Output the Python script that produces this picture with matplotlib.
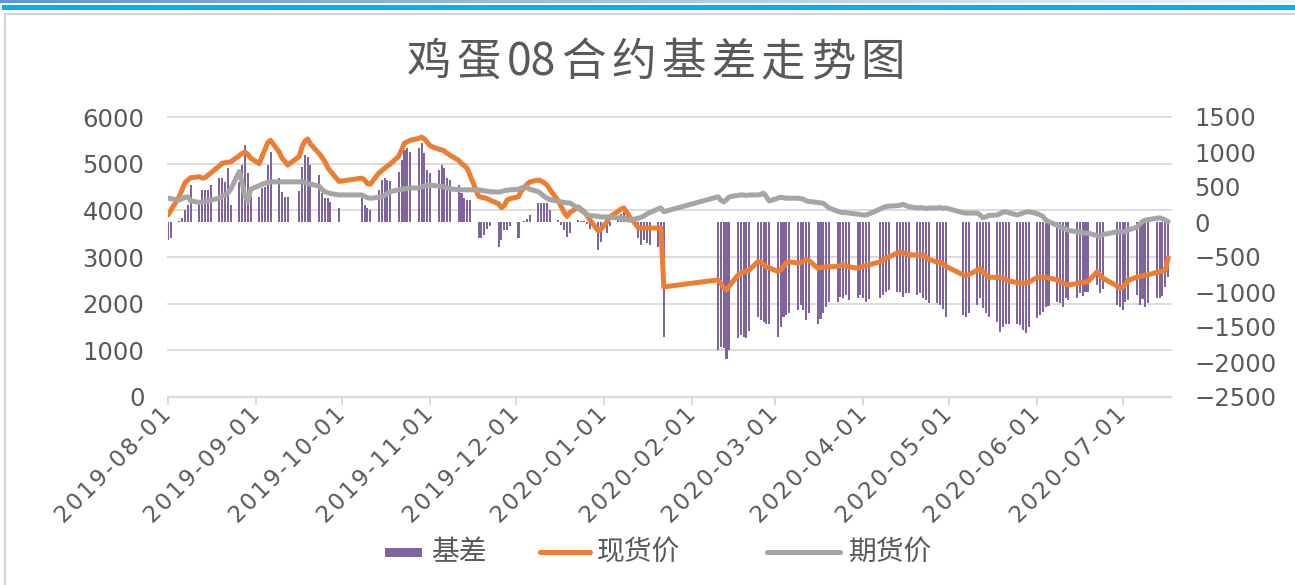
import matplotlib
matplotlib.use('Agg')
import matplotlib.pyplot as plt
import matplotlib.dates as mdates
import matplotlib.transforms as mtransforms
import matplotlib.ticker as mticker
import numpy as np
import pandas as pd
from matplotlib.patches import Rectangle
from matplotlib.lines import Line2D

plt.rcParams['font.family'] = ['Noto Sans CJK SC', 'DejaVu Sans']

# ---------------- data ----------------
start_date, end_date = '2019-08-01', '2020-07-17'
closed_days = (['2019-09-13'] + ['2019-10-0%d' % d for d in range(1, 8)] + ['2020-01-01']
               + list(pd.date_range('2020-01-23', '2020-02-07').strftime('%Y-%m-%d'))
               + ['2020-04-06', '2020-05-01', '2020-05-04', '2020-05-05', '2020-06-25', '2020-06-26'])
dates = pd.bdate_range(start_date, end_date)
dates = dates[~dates.isin(pd.to_datetime(closed_days))]

spot = [
    # Aug 2019
    3900, 4000, 4300, 4450, 4600, 4650, 4700, 4720, 4690, 4700, 4750, 4800, 4950, 5010, 5020, 5030, 5040, 5170, 5220, 5250, 5200, 5120,
    # Sep
    5000, 5150, 5300, 5450, 5500, 5250, 5120, 5050, 4970, 5150, 5350, 5480, 5530, 5420, 5220, 5140, 5050, 4920, 4840, 4620,
    # Oct
    4690, 4650, 4570, 4560, 4800, 4850, 4900, 4950, 4990, 5160, 5300, 5440, 5470, 5500, 5540, 5570, 5530, 5460,
    # Nov
    5380, 5310, 5300, 5270, 5220, 5180, 5070, 5000, 4960, 4900, 4750, 4300, 4280, 4270, 4250, 4220, 4140, 4060, 4100, 4220, 4250,
    # Dec
    4290, 4420, 4480, 4560, 4610, 4650, 4630, 4590, 4540, 4450, 4200, 4080, 3960, 3870, 3950, 4070, 4020, 3980, 3900, 3800, 3560, 3600,
    # Jan 2020
    3750, 3860, 3980, 4030, 4050, 3960, 3860, 3630, 3620, 3620, 3620, 3620, 3620, 3620, 2360,
    # Feb
    2510, 2440, 2340, 2290, 2380, 2610, 2640, 2680, 2700, 2720, 2900, 2900, 2840, 2780, 2770,
    # Mar
    2690, 2720, 2800, 2880, 2900, 2870, 2880, 2910, 2940, 2920, 2760, 2770, 2780, 2790, 2790, 2800, 2820, 2830, 2810, 2790, 2760, 2780,
    # Apr
    2800, 2820, 2830, 2900, 2940, 2970, 3000, 3090, 3110, 3090, 3070, 3050, 3040, 3040, 3040, 3000, 2950, 2890, 2890, 2850, 2800,
    # May
    2620, 2600, 2620, 2720, 2760, 2680, 2620, 2570, 2560, 2560, 2550, 2520, 2490, 2450, 2440, 2440, 2440, 2460,
    # Jun
    2560, 2570, 2560, 2560, 2550, 2510, 2470, 2440, 2420, 2400, 2430, 2450, 2460, 2460, 2480, 2680, 2620, 2550, 2380, 2340,
    # Jul
    2350, 2420, 2500, 2570, 2580, 2600, 2610, 2620, 2670, 2680, 2700, 2720, 2980,
]

futures = [
    # Aug 2019
    4260, 4250, 4220, 4250, 4280, 4290, 4200, 4170, 4180, 4190, 4200, 4220, 4260, 4300, 4330, 4370, 4450, 4830, 4600, 4300, 4200, 4450,
    # Sep
    4530, 4560, 4580, 4600, 4610, 4610, 4610, 4610, 4610, 4610, 4610, 4600, 4580, 4560, 4520, 4450, 4400, 4380, 4360, 4330,
    # Oct
    4330, 4300, 4270, 4260, 4280, 4290, 4320, 4360, 4400, 4440, 4450, 4460, 4470, 4480, 4480, 4500, 4520, 4540,
    # Nov
    4540, 4520, 4510, 4500, 4480, 4460, 4440, 4440, 4440, 4440, 4440, 4440, 4430, 4420, 4410, 4400, 4390, 4400, 4420, 4430, 4440,
    # Dec
    4450, 4480, 4500, 4490, 4450, 4400, 4350, 4300, 4260, 4230, 4190, 4180, 4170, 4160, 4160, 4040, 4000, 3950, 3910, 3890, 3870, 3860,
    # Jan 2020
    3860, 3850, 3840, 3830, 3820, 3800, 3790, 3830, 3850, 3880, 3920, 3950, 4030, 4050, 3970,
    # Feb
    4290, 4220, 4180, 4230, 4290, 4320, 4330, 4330, 4320, 4330, 4330, 4340, 4370, 4290, 4200,
    # Mar
    4260, 4280, 4270, 4260, 4260, 4260, 4250, 4240, 4200, 4190, 4170, 4160, 4150, 4100, 4050, 3980, 3960, 3950, 3950, 3940, 3920, 3910,
    # Apr
    3900, 3900, 3920, 4030, 4060, 4080, 4090, 4100, 4110, 4130, 4100, 4080, 4050, 4060, 4050, 4040, 4050, 4050, 4060, 4040, 4050,
    # May
    3950, 3940, 3940, 3940, 3900, 3840, 3860, 3890, 3900, 3930, 3960, 3970, 3950, 3900, 3920, 3940, 3960, 3970,
    # Jun
    3930, 3900, 3870, 3800, 3760, 3680, 3650, 3620, 3600, 3570, 3540, 3530, 3520, 3510, 3510, 3460, 3430, 3480, 3540, 3540,
    # Jul
    3540, 3550, 3580, 3640, 3700, 3760, 3790, 3800, 3830, 3840, 3820, 3790, 3760,
]

basis = [
    # Aug 2019
    -260, -230, 20, 60, 170, 240, 530, 300, 460, 460, 460, 530, 630, 630, 570, 770, 240, 570, 820, 1100, 700, 360,
    # Sep
    360, 490, 500, 820, 1000, 630, 430, 360, 360, 450, 790, 960, 930, 820, 670, 410, 340, 340, 290, 200,
    # Oct
    340, 240, 200, 170, 460, 600, 630, 600, 580, 720, 890, 1030, 1060, 1000, 1060, 1130, 990, 740,
    # Nov
    700, 740, 820, 770, 630, 600, 530, 410, 340, 320, 320, -230, -230, -190, -100, -50, -360, -260, -120, -120, -50,
    # Dec
    -230, 0, 20, 50, 100, 270, 270, 270, 270, 170, 30, -40, -120, -220, -150, 30, 20, 20, -30, -100, -400, -290,
    # Jan 2020
    -150, -50, 60, 120, 140, 80, 30, -230, -330, -260, -300, -330, -360, -70, -1640,
    # Feb
    -1830, -1790, -1800, -1950, -1830, -1660, -1620, -1640, -1660, -1560, -1360, -1400, -1430, -1450, -1450,
    # Mar
    -1640, -1500, -1360, -1330, -1300, -1260, -1190, -1260, -1400, -1300, -1450, -1380, -1300, -1220, -1140, -1140, -1070, -1090, -1040, -1110, -1090, -1040,
    # Apr
    -1090, -1140, -1100, -1090, -1040, -1000, -970, -1000, -1000, -1070, -1020, -1020, -1040, -1020, -1090, -1110, -1150, -1160, -1190, -1240, -1360,
    # May
    -1330, -1360, -1300, -1190, -1090, -1230, -1300, -1350, -1430, -1570, -1500, -1450, -1450, -1450, -1470, -1540, -1590, -1500,
    # Jun
    -1370, -1330, -1290, -1210, -1200, -1140, -1160, -1210, -1090, -1120, -1090, -1020, -1050, -1000, -1000, -900, -1020, -960, -1190, -1210,
    # Jul
    -1260, -1140, -1120, -1040, -1190, -1100, -1210, -1150, -1090, -1090, -1050, -930, -790,
]

df = pd.DataFrame({'spot': spot, 'futures': futures, 'basis': basis}, index=dates)

title_tokens = ['鸡', '蛋', '08', '合', '约', '基', '差', '走', '势', '图']
legend_labels = ['基差', '现货价', '期货价']
left_ticks = list(range(0, 7000, 1000))
right_ticks = list(range(-2500, 2000, 500))

# ---------------- style ----------------
C_BAR = '#8064A2'
C_SPOT = '#ED7D31'
C_FUT = '#A5A5A5'
C_TXT = '#595959'
C_GRID = '#D9D9D9'
NUM_FONT = ['DejaVu Sans']

W, H = 1295, 585
fig = plt.figure(figsize=(W / 100, H / 100), dpi=100)
fig.patch.set_facecolor('white')

# decorative top strips and chart frame
strip = fig.add_axes([0, 1 - 3 / H, 1, 3 / H])
grad = np.linspace(0, 1, 256)
c0 = np.array([0x5E, 0x94, 0xD0]) / 255
c1 = np.array([0xF2, 0xF6, 0xFB]) / 255
img = (c0[None, :] * (1 - grad[:, None]) + c1[None, :] * grad[:, None])[None, :, :]
strip.imshow(img, aspect='auto', extent=[0, 1, 0, 1])
strip.set_axis_off()
fig.patches.append(Rectangle((2 / W, 1 - 9.5 / H), 1, 5 / H, transform=fig.transFigure,
                             facecolor='#00B0F0', edgecolor='none'))
fig.patches.append(Rectangle((4.5 / W, -0.05), 1.0, 1.05 - 14 / H, transform=fig.transFigure,
                             facecolor='none', edgecolor='#D4D4D4', lw=1.6))

x0, x1, ytop, ybot = 168, 1171, 117, 397
ax = fig.add_axes([x0 / W, 1 - ybot / H, (x1 - x0) / W, (ybot - ytop) / H])
ax2 = ax.twinx()
ax.set_zorder(ax2.get_zorder() + 1)
ax.patch.set_visible(False)

# gridlines (left-axis based) behind bars
blend = mtransforms.blended_transform_factory(ax2.transAxes, ax.transData)
for v in left_ticks[1:]:
    ax2.plot([0, 1], [v, v], transform=blend, color=C_GRID, lw=1.3, zorder=0.5, clip_on=False)

ax2.bar(df.index, df['basis'], width=0.72, color=C_BAR, zorder=2, linewidth=0)
ax.plot(df.index, df['spot'], color=C_SPOT, lw=3.6, solid_joinstyle='round', solid_capstyle='round', zorder=3)
ax.plot(df.index, df['futures'], color=C_FUT, lw=3.6, solid_joinstyle='round', solid_capstyle='round', zorder=4)

xstart = mdates.date2num(pd.Timestamp('2019-08-01'))
ax.set_xlim(xstart, xstart + 352)
ax.set_ylim(0, 6000)
ax2.set_ylim(-2500, 1500)
ax.set_yticks(left_ticks)
ax2.set_yticks(right_ticks)

for a in (ax, ax2):
    for s in a.spines.values():
        s.set_visible(False)
ax.spines['bottom'].set_visible(True)
ax.spines['bottom'].set_color(C_GRID)
ax.spines['bottom'].set_linewidth(1.6)


def spaced_date(x, pos=None):
    s = mdates.num2date(x).strftime('%Y-%m-%d')
    return '\u200A'.join(s)


ax.xaxis.set_major_locator(mdates.MonthLocator())
ax.xaxis.set_major_formatter(mticker.FuncFormatter(spaced_date))
ax.tick_params(axis='x', length=6, width=1.4, color=C_GRID, labelsize=16.5, labelcolor=C_TXT, pad=4)
ax.tick_params(axis='y', length=0, labelsize=17.5, labelcolor=C_TXT, pad=17)
ax2.tick_params(axis='y', length=0, labelsize=17.5, labelcolor=C_TXT, pad=17)
for lab in ax.get_xticklabels():
    lab.set_rotation(45)
    lab.set_ha('right')
    lab.set_va('center')
    lab.set_rotation_mode('anchor')
    lab.set_family(NUM_FONT)
for lab in ax.get_yticklabels() + ax2.get_yticklabels():
    lab.set_family(NUM_FONT)

# title with Excel-like character spacing
renderer = fig.canvas.get_renderer()
chars = []
for tok in title_tokens:
    t = fig.text(0, 1 - 62 / H, tok, ha='left', va='center', fontsize=32, color=C_TXT)
    chars.append(t)
widths = [t.get_window_extent(renderer=renderer).width for t in chars]
t_left, t_right = 407, 905
gap = ((t_right - t_left) - sum(widths)) / (len(chars) - 1)
xpos = t_left
for t, w in zip(chars, widths):
    t.set_x(xpos / W)
    xpos += w + gap

# legend (drawn manually to match Excel layout)
ly = 1 - 552 / H
fig.patches.append(Rectangle((385 / W, 1 - 557 / H), 37 / W, 9 / H, transform=fig.transFigure,
                             facecolor=C_BAR, edgecolor='none'))
fig.text(431 / W, ly, legend_labels[0], ha='left', va='center', fontsize=20, color=C_TXT)
fig.lines.append(Line2D([540 / W, 590 / W], [ly, ly], transform=fig.transFigure, color=C_SPOT, lw=3.6,
                        solid_capstyle='round'))
fig.text(597 / W, ly, legend_labels[1], ha='left', va='center', fontsize=20, color=C_TXT)
fig.lines.append(Line2D([767 / W, 840 / W], [ly, ly], transform=fig.transFigure, color=C_FUT, lw=3.6,
                        solid_capstyle='round'))
fig.text(849 / W, ly, legend_labels[2], ha='left', va='center', fontsize=20, color=C_TXT)

fig.savefig('out.png', dpi=100, facecolor='white')
